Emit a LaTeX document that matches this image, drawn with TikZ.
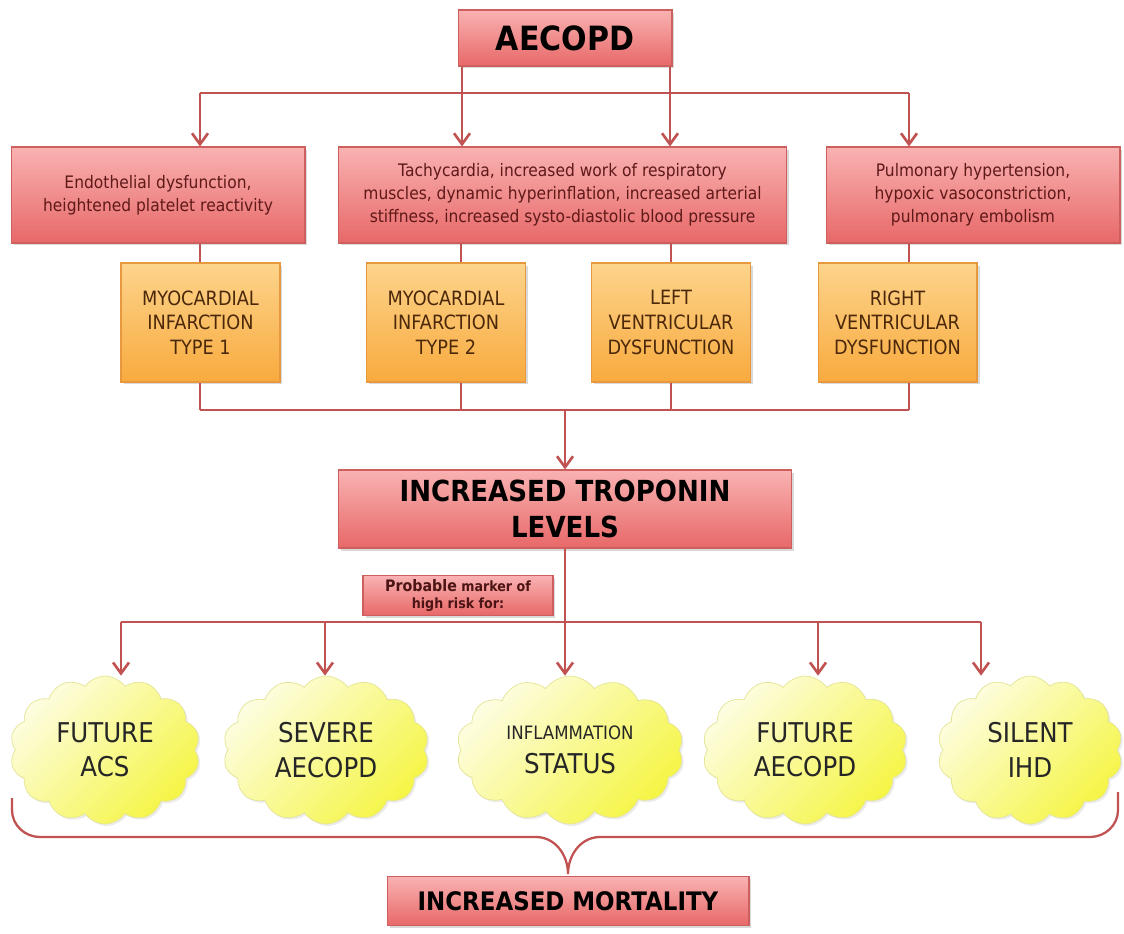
\documentclass[tikz,border=0pt]{standalone}
\usepackage{fontspec}
\setmainfont{DejaVu Sans}[FakeStretch=0.9]
\usetikzlibrary{arrows.meta,positioning,calc,shapes.symbols,shadows}
\definecolor{rtop}{RGB}{249,178,178}
\definecolor{rbot}{RGB}{232,104,104}
\definecolor{rdraw}{RGB}{205,95,95}
\definecolor{rtext}{RGB}{95,25,25}
\definecolor{otop}{RGB}{253,212,140}
\definecolor{obot}{RGB}{248,170,62}
\definecolor{odraw}{RGB}{232,152,62}
\definecolor{otext}{RGB}{75,40,10}
\definecolor{ylite}{RGB}{253,253,225}
\definecolor{ydeep}{RGB}{245,245,70}
\definecolor{cdraw}{RGB}{228,228,150}
\definecolor{lnred}{RGB}{192,82,82}

\begin{document}
\begin{tikzpicture}[
  x=0.02cm, y=-0.02cm,
  every node/.style={align=center, inner sep=2pt},
  shade/.style={drop shadow={opacity=.3, shadow xshift=.5mm, shadow yshift=-.5mm}},
  redbox/.style={draw=rdraw, line width=.6pt, top color=rtop, bottom color=rbot, text=rtext, shade},
  causebox/.style={redbox, minimum width=5.88cm, minimum height=1.92cm,
    font=\fontsize{9.8}{13}\selectfont},
  headbox/.style={redbox, text=black, font=\bfseries},
  orbox/.style={draw=odraw, line width=.6pt, top color=otop, bottom color=obot, text=otext, shade,
    minimum width=3.18cm, minimum height=2.38cm, font=\fontsize{11.2}{14}\selectfont},
  puff/.style={cloud, cloud puffs=14, cloud puff arc=110, cloud ignores aspect, draw=cdraw,
    top color=ylite, bottom color=ydeep, shading angle=45, minimum height=2.96cm, text=black!85,
    drop shadow={opacity=.15, shadow xshift=.4mm, shadow yshift=-.4mm},
    font=\fontsize{15.5}{19.5}\selectfont},
  link/.style={draw=lnred, line width=1.5pt},
  arr/.style={link, -{Straight Barb[length=2.2mm,width=3.2mm]}}
]
\useasboundingbox (0,0) rectangle (1124,933);

% top level
\node[headbox, minimum width=4.28cm, minimum height=1.12cm, font=\fontsize{19}{22}\bfseries\selectfont]
  (aecopd) at (565,38) {AECOPD};
\node[causebox] (red1) at (158,195) {Endothelial dysfunction,\\heightened platelet reactivity};
\node[causebox, minimum width=8.98cm] (red2) at (562.5,195)
  {Tachycardia, increased work of respiratory\\muscles, dynamic hyperinflation, increased arterial\\stiffness, increased systo-diastolic blood pressure};
\node[causebox] (red3) at (973,195) {Pulmonary hypertension,\\hypoxic vasoconstriction,\\pulmonary embolism};

\node[orbox] (mi1) at (200.5,322.5) {MYOCARDIAL\\INFARCTION\\TYPE 1};
\node[orbox] (mi2) at (446,322.5) {MYOCARDIAL\\INFARCTION\\TYPE 2};
\node[orbox] (lvd) at (671,322.5) {LEFT\\VENTRICULAR\\DYSFUNCTION};
\node[orbox] (rvd) at (897.5,322.5) {RIGHT\\VENTRICULAR\\DYSFUNCTION};

\node[headbox, minimum width=9.08cm, minimum height=1.56cm, font=\fontsize{16.5}{20}\bfseries\selectfont]
  (tropo) at (565,509) {INCREASED TROPONIN\\LEVELS};
\node[headbox, minimum width=3.8cm, minimum height=.74cm, text=rtext!80!black,
  font=\fontsize{8}{10}\bfseries\selectfont]
  (marker) at (458,595.5) {{\fontsize{9}{10}\selectfont Probable} marker of\\high risk for:};

\node[puff, minimum width=3.8cm] (acs) at (105,750) {FUTURE\\ACS};
\node[puff, minimum width=4.12cm] (sev) at (326,750) {SEVERE\\AECOPD};
\node[puff, minimum width=4.54cm] (infl) at (570,750) {{\fontsize{10.5}{12}\selectfont INFLAMMATION}\\STATUS};
\node[puff, minimum width=4.1cm] (fut) at (805,750) {FUTURE\\AECOPD};
\node[puff, minimum width=3.7cm] (sil) at (1030,750) {SILENT\\IHD};

\node[headbox, minimum width=7.24cm, minimum height=.98cm, font=\fontsize{14.5}{16}\bfseries\selectfont]
  (mort) at (568,901) {INCREASED MORTALITY};

% junction points
\coordinate (t1) at (200,93);
\coordinate (t2) at (462,93);
\coordinate (t3) at (670,93);
\coordinate (t4) at (909,93);
\coordinate (m1) at (200,410);
\coordinate (m2) at (461,410);
\coordinate (m3) at (671,410);
\coordinate (m4) at (909,410);
\coordinate (mc) at (565,410);
\coordinate (b1) at (121,622);
\coordinate (b2) at (325,622);
\coordinate (b3) at (565,622);
\coordinate (b4) at (818,622);
\coordinate (b5) at (981,622);
\coordinate (brL) at (12,798);
\coordinate (brR) at (1118,792);
\coordinate (brtip) at (568,874);

\draw[link] (t1) -- (t4);
\foreach \c/\n in {t1/red1,t4/red3}
  \draw[arr] (\c) -- (\c |- \n.north);
\foreach \c in {t2,t3}
  \draw[arr] (\c |- aecopd.south) -- (\c |- red2.north);

\foreach \c/\u/\d in {m1/red1/mi1,m2/red2/mi2,m3/red2/lvd,m4/red3/rvd}
  \draw[link] (\c |- \u.south) -- (\c |- \d.north) (\c |- \d.south) -- (\c);
\draw[link] (m1) -- (m4);
\draw[arr] (mc) -- (tropo.north);

\draw[link] (tropo.south) -- (b3);
\draw[link] (b1) -- (b5);
\foreach \c/\n in {b1/acs,b2/sev,b3/infl,b4/fut,b5/sil}
  \draw[arr] (\c) -- (\c |- \n.north);

% brace under the clouds
\draw[link, line width=1.3pt] (brL) -- (12,810) to[out=-90,in=180] (40,837) -- (536,837)
  to[out=0,in=90] (brtip) to[out=90,in=180] (600,837) -- (1090,837)
  to[out=0,in=-90] (1118,810) -- (brR);
\end{tikzpicture}
\end{document}
